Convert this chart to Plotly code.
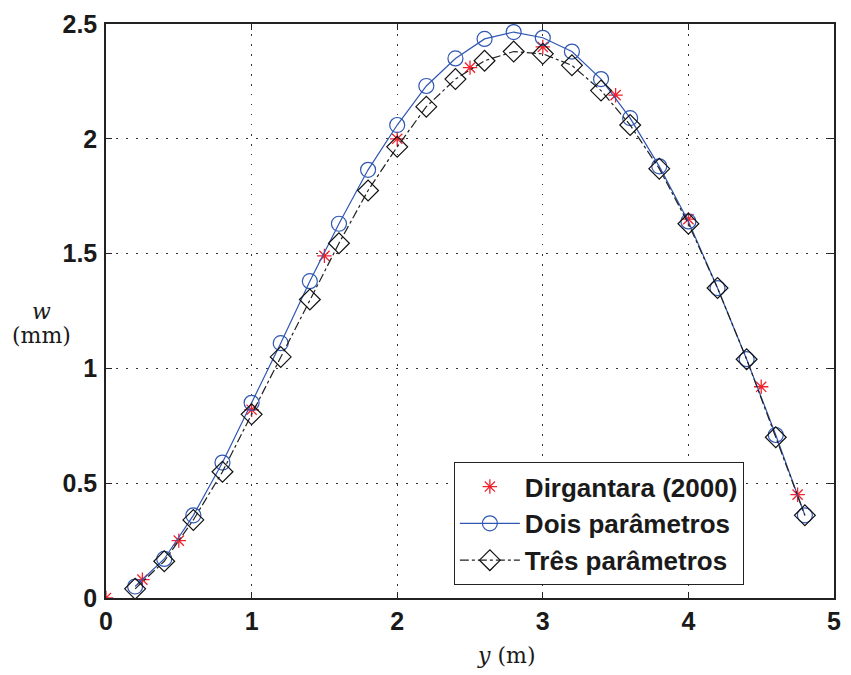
import plotly.graph_objects as go

# Data
dir_x = [0, 0.25, 0.5, 1.0, 1.5, 2.0, 2.5, 3.0, 3.5, 4.0, 4.5, 4.75]
dir_w = [0, 0.08, 0.25, 0.82, 1.49, 2.00, 2.31, 2.40, 2.19, 1.65, 0.92, 0.45]

y_nodes = [0.2, 0.4, 0.6, 0.8, 1.0, 1.2, 1.4, 1.6, 1.8, 2.0, 2.2, 2.4,
           2.6, 2.8, 3.0, 3.2, 3.4, 3.6, 3.8, 4.0, 4.2, 4.4, 4.6, 4.8]
dois_w = [0.05, 0.17, 0.36, 0.59, 0.85, 1.11, 1.38, 1.63, 1.865, 2.06, 2.23, 2.35,
          2.435, 2.465, 2.44, 2.38, 2.26, 2.09, 1.88, 1.64, 1.35, 1.04, 0.71, 0.36]
tres_w = [0.04, 0.16, 0.34, 0.55, 0.80, 1.05, 1.30, 1.545, 1.775, 1.965, 2.14, 2.26,
          2.34, 2.38, 2.37, 2.32, 2.21, 2.06, 1.87, 1.63, 1.35, 1.04, 0.70, 0.36]

x_ticks = [0, 1, 2, 3, 4, 5]
y_ticks = [0, 0.5, 1, 1.5, 2, 2.5]
y_ticktext = ["0", "0.5", "1", "1.5", "2", "2.5"]

BLUE = "#2f57b3"
RED = "#f0222e"
FONT = "Liberation Sans, Arial, sans-serif"
SERIF = "DejaVu Serif, Liberation Serif, serif"

fig = go.Figure()
fig.add_trace(go.Scatter(
    x=dir_x, y=dir_w, mode="markers", name="Dirgantara (2000)",
    marker=dict(symbol="asterisk-open", size=12, color=RED,
                line=dict(color=RED, width=1.3)),
))
fig.add_trace(go.Scatter(
    x=y_nodes, y=dois_w, mode="lines+markers", name="Dois parâmetros",
    line=dict(color=BLUE, width=1.2),
    marker=dict(symbol="circle-open", size=15, color=BLUE,
                line=dict(color=BLUE, width=1.2)),
))
fig.add_trace(go.Scatter(
    x=y_nodes, y=tres_w, mode="lines+markers", name="Três parâmetros",
    line=dict(color="#222222", width=1.2, dash="dashdot"),
    marker=dict(symbol="diamond-open", size=16, color="#111111",
                line=dict(color="#111111", width=1.2)),
))

axis_common = dict(
    showgrid=True, gridcolor="#333333", griddash="1.5px,8.5px", gridwidth=1,
    showline=True, linecolor="#222222", linewidth=1.5, mirror="allticks",
    ticks="inside", ticklen=6, tickcolor="#222222", tickwidth=1,
    zeroline=False,
    tickfont=dict(family=FONT, size=25, color="#1a1a1a", weight="bold"),
)

fig.update_xaxes(range=[0, 5], tickvals=x_ticks,
                 ticktext=[str(v) for v in x_ticks], **axis_common)
fig.update_yaxes(range=[0, 2.5], tickvals=y_ticks,
                 ticktext=y_ticktext, ticklabelstandoff=2, **axis_common)

# x-axis title
fig.add_annotation(xref="paper", yref="paper", x=(510 - 106) / 735, y=(598 - 656) / 580,
                   text="<i>y</i> (m)", showarrow=False,
                   font=dict(family=SERIF, size=22, color="#1a1a1a"),
                   xanchor="center", yanchor="middle")
# y-axis title (horizontal, two lines)
fig.add_annotation(xref="paper", yref="paper", x=(41 - 106) / 735, y=(598 - 308) / 580,
                   text="<i>w</i>", showarrow=False,
                   font=dict(family=SERIF, size=22, color="#1a1a1a"),
                   xanchor="center", yanchor="middle")
fig.add_annotation(xref="paper", yref="paper", x=(41 - 106) / 735, y=(598 - 333) / 580,
                   text="(mm)", showarrow=False,
                   font=dict(family=SERIF, size=22, color="#1a1a1a"),
                   xanchor="center", yanchor="middle")

fig.update_layout(
    width=851, height=675,
    margin=dict(l=106, r=10, t=18, b=77),
    paper_bgcolor="white", plot_bgcolor="white",
    showlegend=True,
    legend=dict(
        x=(750 - 106) / 735, y=(598 - 585) / 580, xanchor="right", yanchor="bottom",
        bgcolor="white", bordercolor="#222222", borderwidth=1,
        font=dict(family=FONT, size=26, color="#1a1a1a", weight="bold"),
        tracegroupgap=0, itemwidth=60,
    ),
)

fig.write_html("out.html")
